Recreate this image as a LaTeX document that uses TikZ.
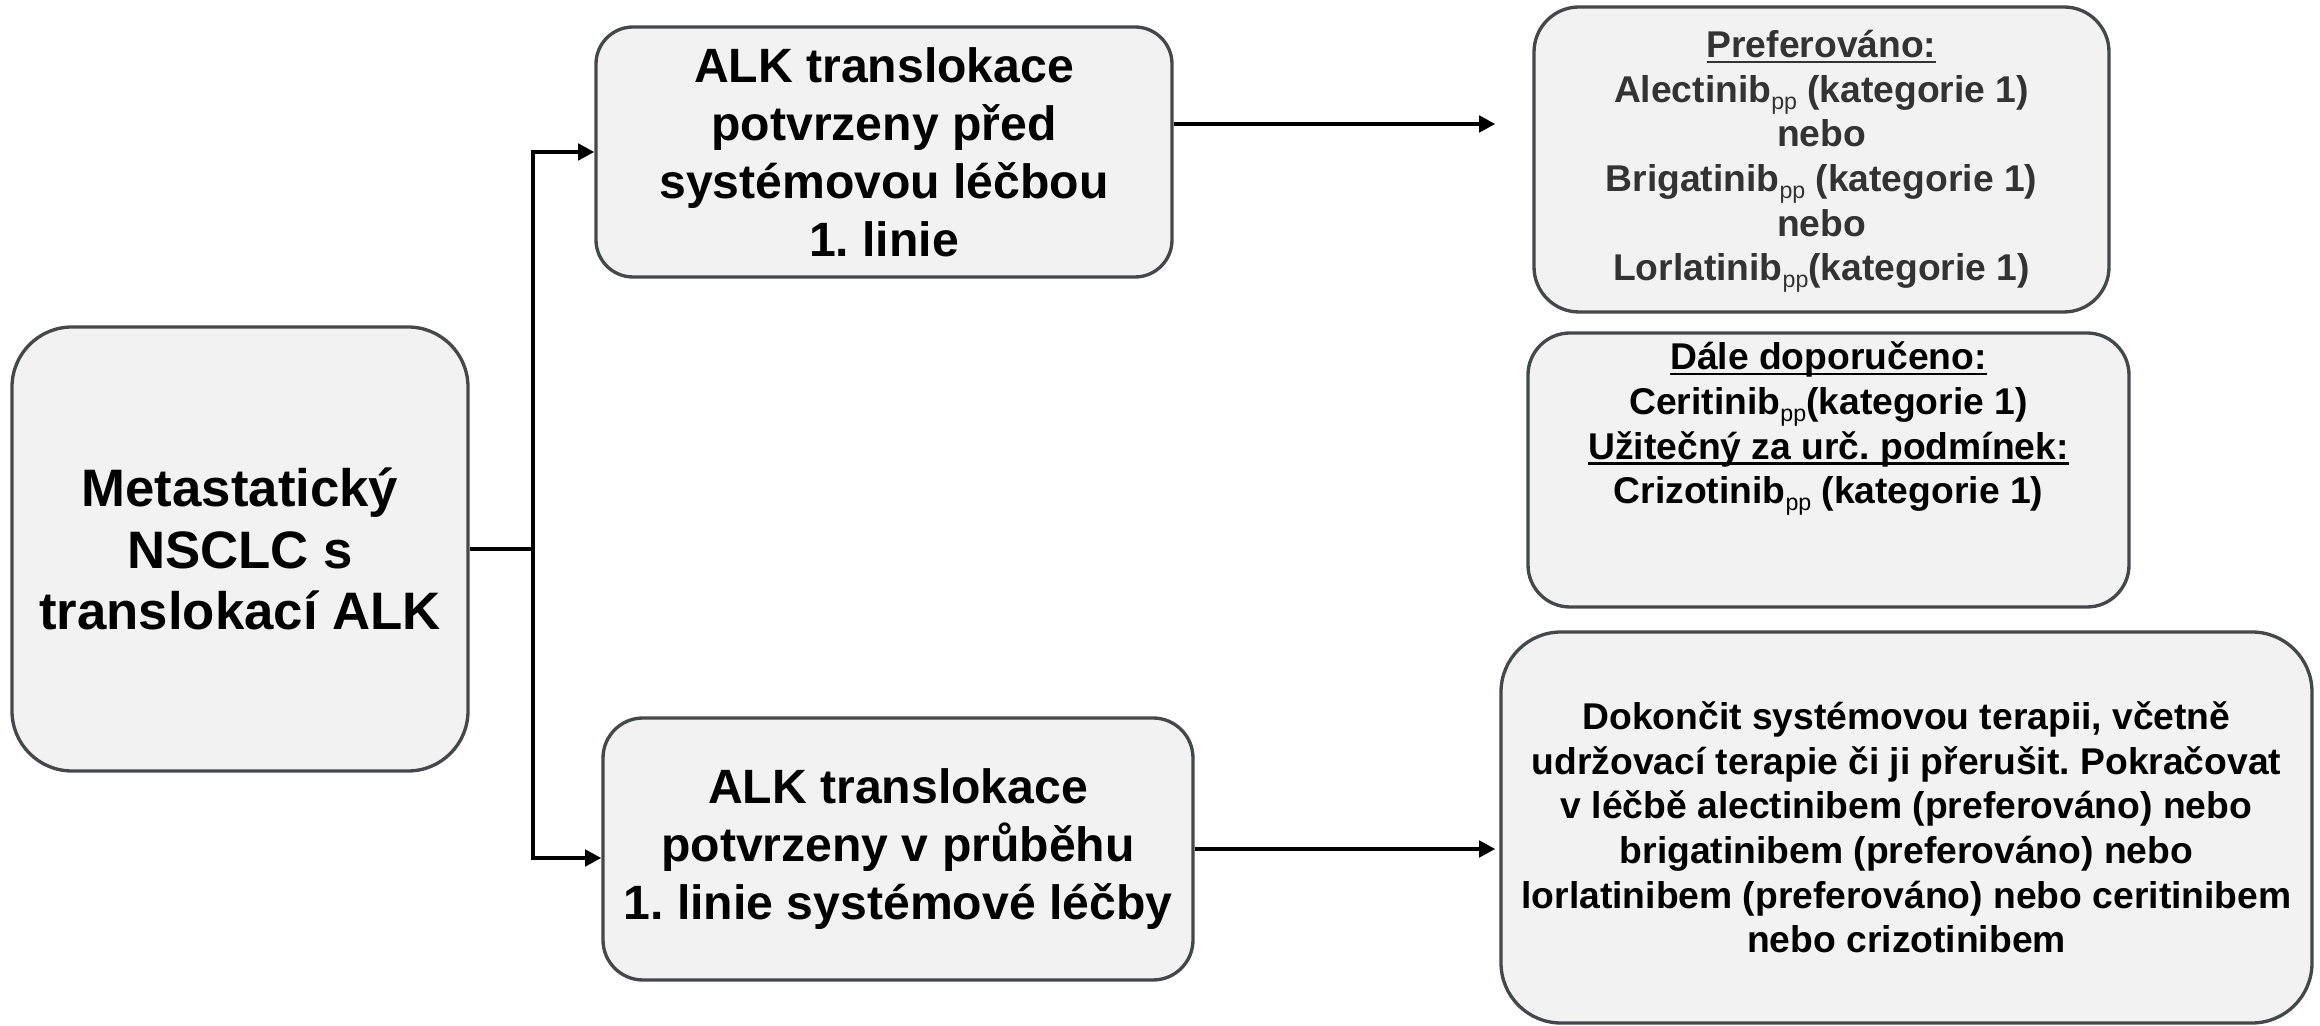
\documentclass[tikz,border=0pt]{standalone}
\usepackage{fontspec}
\setmainfont{Liberation Sans}
\usetikzlibrary{arrows.meta}
\definecolor{boxfill}{HTML}{F2F2F2}
\definecolor{boxline}{HTML}{454849}
\definecolor{darktext}{HTML}{333333}
\frenchspacing
\newsavebox{\headbox}
\newcommand{\headline}[1]{\sbox{\headbox}{#1}\rlap{\rule[-1.6pt]{\wd\headbox}{0.7pt}}\usebox{\headbox}}
\newcommand{\pp}{\raisebox{-0.35ex}[0pt][0pt]{\mdseries\fontsize{6.6}{6.6}\selectfont pp}}
\tikzstyle{box} = [rectangle, rounded corners=0.4cm, draw=boxline, line width=0.95pt, fill=boxfill, align=center, inner sep=0pt]
\tikzstyle{entry} = [box, font=\bfseries\fontsize{15}{17.6}\selectfont]
\tikzstyle{timing} = [box, font=\bfseries\fontsize{13.7}{16.5}\selectfont]
\tikzstyle{drugs} = [box, font=\bfseries\fontsize{10.6}{12.7}\selectfont]
\tikzstyle{drugtext} = [align=center, inner sep=0pt, font=\bfseries\fontsize{10.6}{12.7}\selectfont]

\begin{document}
\begin{tikzpicture}[node distance=1.5cm]
    \tikzset{flow/.style={-{Triangle[length=4.6pt,width=4.6pt]}, line width=1.15pt}}
\useasboundingbox (0,0) rectangle (23.2,-10.26);
\node (meta) [entry, minimum width=4.56cm, minimum height=4.44cm, rounded corners=0.6cm] at (2.4,-5.49) {Metastatický\\NSCLC s\\translokací ALK};
\node (pred) [timing, minimum width=5.76cm, minimum height=2.5cm, rounded corners=0.37cm, right of=meta, xshift=4.94cm, yshift=3.97cm] {ALK translokace\\potvrzeny před\\systémovou léčbou\\1. linie};
\node (behem) [timing, minimum width=5.9cm, minimum height=2.62cm, rounded corners=0.4cm, right of=meta, xshift=5.08cm, yshift=-3cm] {ALK translokace\\potvrzeny v průběhu\\1. linie systémové léčby};

\node (pref) [drugs, text=darktext, minimum width=5.75cm, minimum height=3.05cm, rounded corners=0.45cm, right of=pred, xshift=7.875cm, yshift=-0.075cm] {\headline{Preferováno:}\\Alectinib\pp{} (kategorie 1)\\nebo\\Brigatinib\pp{} (kategorie 1)\\nebo\\Lorlatinib\pp(kategorie 1)};
\node (dale) [drugs, minimum width=6.01cm, minimum height=2.74cm, rounded corners=0.42cm, below of=pref, xshift=0.07cm, yshift=-1.605cm] {};
\node (daleText) [drugtext, anchor=north] at ([yshift=-0.1cm]dale.north) {\headline{Dále doporučeno:}\\Ceritinib\pp(kategorie 1)\\\headline{Užitečný za urč. podmínek:}\\Crizotinib\pp{} (kategorie 1)};
\node (dalsi) [drugs, minimum width=8.11cm, minimum height=3.91cm, rounded corners=0.6cm, right of=behem, xshift=8.585cm, yshift=0.215cm] {Dokončit systémovou terapii, včetně\\udržovací terapie či ji přerušit. Pokračovat\\v léčbě alectinibem (preferováno) nebo\\brigatinibem (preferováno) nebo\\lorlatinibem (preferováno) nebo ceritinibem\\nebo crizotinibem};

\draw [line width=1.15pt] (meta.east) -- ++(0.63,0) coordinate (split);
\draw [flow] (split) |- (pred.west);
\draw [flow] (split) |- ([yshift=-0.09cm]behem.west);
\draw [flow, shorten >=0.37cm] ([yshift=0.28cm]pred.east) -- ([yshift=0.28cm]pred.east -| pref.west);
\draw [flow, shorten >=0.04cm] (behem.east) -- (behem.east -| dalsi.west);
\end{tikzpicture}
\end{document}
